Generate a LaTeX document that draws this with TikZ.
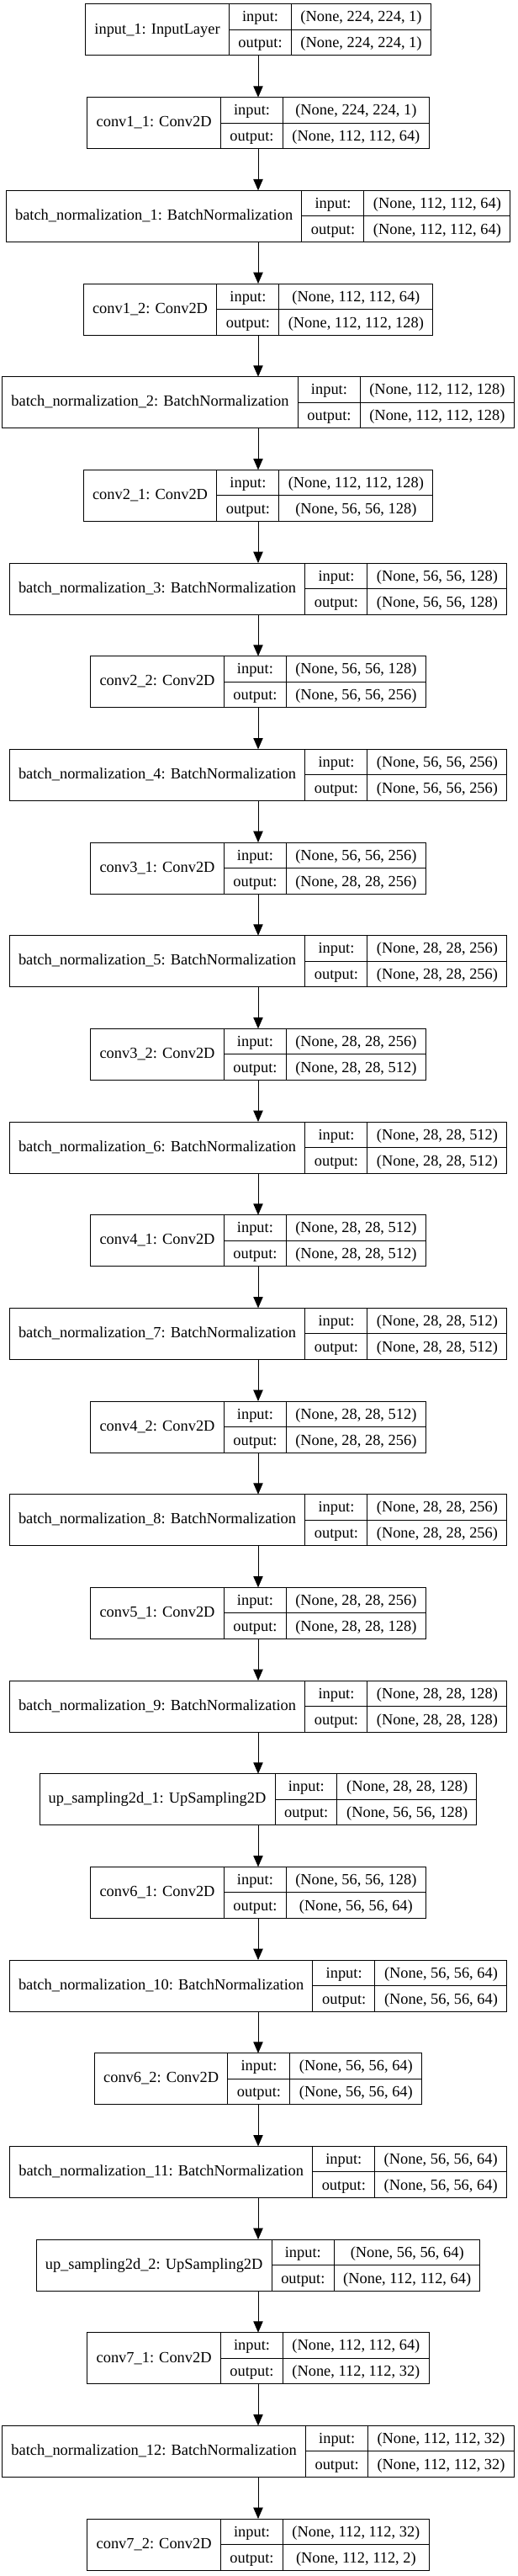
\documentclass[tikz,border=0pt]{standalone}
\usepackage{fontspec}
\setmainfont{Liberation Serif}
\usepackage{tikz}
\usetikzlibrary{positioning, arrows.meta}
\setlength{\arrayrulewidth}{0.75pt}
\renewcommand{\arraystretch}{1.40625}
% one keras layer: name | input:/output: | shapes
\newcommand{\layerbox}[3]{%
  \begin{tabular}{@{\hspace{8pt}}c@{\hspace{8pt}}|@{}c@{}|@{}c@{}}
    #1 &
    \begin{tabular}{@{\hspace{8pt}}c@{\hspace{8pt}}}input:\\\hline output:\end{tabular} &
    \begin{tabular}{@{\hspace{8pt}}c@{\hspace{8pt}}}#2\\\hline #3\end{tabular}
  \end{tabular}}

\begin{document}
\begin{tikzpicture}[
        node distance=37.25pt,
        layer/.style={rectangle, draw=black, line width=0.75pt, inner sep=0pt, outer sep=0pt, fill=white, font=\fontsize{13.8}{16}\selectfont},
        arrow/.style={-{Triangle[length=10pt, width=8.5pt]}, line width=0.75pt, draw=black}
    ]
    \useasboundingbox (-230.25pt,3.75pt) rectangle (231pt,-2292pt);
    \node[layer, anchor=north] (input) at (0,0) {\layerbox{input\_1: InputLayer}{(None, 224, 224, 1)}{(None, 224, 224, 1)}};
    \node[layer, below=of input] (conv11) {\layerbox{conv1\_1: Conv2D}{(None, 224, 224, 1)}{(None, 112, 112, 64)}};
    \node[layer, below=of conv11] (bn1) {\layerbox{batch\_normalization\_1: BatchNormalization}{(None, 112, 112, 64)}{(None, 112, 112, 64)}};
    \node[layer, below=of bn1] (conv12) {\layerbox{conv1\_2: Conv2D}{(None, 112, 112, 64)}{(None, 112, 112, 128)}};
    \node[layer, below=of conv12] (bn2) {\layerbox{batch\_normalization\_2: BatchNormalization}{(None, 112, 112, 128)}{(None, 112, 112, 128)}};
    \node[layer, below=of bn2] (conv21) {\layerbox{conv2\_1: Conv2D}{(None, 112, 112, 128)}{(None, 56, 56, 128)}};
    \node[layer, below=of conv21] (bn3) {\layerbox{batch\_normalization\_3: BatchNormalization}{(None, 56, 56, 128)}{(None, 56, 56, 128)}};
    \node[layer, below=of bn3] (conv22) {\layerbox{conv2\_2: Conv2D}{(None, 56, 56, 128)}{(None, 56, 56, 256)}};
    \node[layer, below=of conv22] (bn4) {\layerbox{batch\_normalization\_4: BatchNormalization}{(None, 56, 56, 256)}{(None, 56, 56, 256)}};
    \node[layer, below=of bn4] (conv31) {\layerbox{conv3\_1: Conv2D}{(None, 56, 56, 256)}{(None, 28, 28, 256)}};
    \node[layer, below=of conv31] (bn5) {\layerbox{batch\_normalization\_5: BatchNormalization}{(None, 28, 28, 256)}{(None, 28, 28, 256)}};
    \node[layer, below=of bn5] (conv32) {\layerbox{conv3\_2: Conv2D}{(None, 28, 28, 256)}{(None, 28, 28, 512)}};
    \node[layer, below=of conv32] (bn6) {\layerbox{batch\_normalization\_6: BatchNormalization}{(None, 28, 28, 512)}{(None, 28, 28, 512)}};
    \node[layer, below=of bn6] (conv41) {\layerbox{conv4\_1: Conv2D}{(None, 28, 28, 512)}{(None, 28, 28, 512)}};
    \node[layer, below=of conv41] (bn7) {\layerbox{batch\_normalization\_7: BatchNormalization}{(None, 28, 28, 512)}{(None, 28, 28, 512)}};
    \node[layer, below=of bn7] (conv42) {\layerbox{conv4\_2: Conv2D}{(None, 28, 28, 512)}{(None, 28, 28, 256)}};
    \node[layer, below=of conv42] (bn8) {\layerbox{batch\_normalization\_8: BatchNormalization}{(None, 28, 28, 256)}{(None, 28, 28, 256)}};
    \node[layer, below=of bn8] (conv51) {\layerbox{conv5\_1: Conv2D}{(None, 28, 28, 256)}{(None, 28, 28, 128)}};
    \node[layer, below=of conv51] (bn9) {\layerbox{batch\_normalization\_9: BatchNormalization}{(None, 28, 28, 128)}{(None, 28, 28, 128)}};
    \node[layer, below=of bn9] (up1) {\layerbox{up\_sampling2d\_1: UpSampling2D}{(None, 28, 28, 128)}{(None, 56, 56, 128)}};
    \node[layer, below=of up1] (conv61) {\layerbox{conv6\_1: Conv2D}{(None, 56, 56, 128)}{(None, 56, 56, 64)}};
    \node[layer, below=of conv61] (bn10) {\layerbox{batch\_normalization\_10: BatchNormalization}{(None, 56, 56, 64)}{(None, 56, 56, 64)}};
    \node[layer, below=of bn10] (conv62) {\layerbox{conv6\_2: Conv2D}{(None, 56, 56, 64)}{(None, 56, 56, 64)}};
    \node[layer, below=of conv62] (bn11) {\layerbox{batch\_normalization\_11: BatchNormalization}{(None, 56, 56, 64)}{(None, 56, 56, 64)}};
    \node[layer, below=of bn11] (up2) {\layerbox{up\_sampling2d\_2: UpSampling2D}{(None, 56, 56, 64)}{(None, 112, 112, 64)}};
    \node[layer, below=of up2] (conv71) {\layerbox{conv7\_1: Conv2D}{(None, 112, 112, 64)}{(None, 112, 112, 32)}};
    \node[layer, below=of conv71] (bn12) {\layerbox{batch\_normalization\_12: BatchNormalization}{(None, 112, 112, 32)}{(None, 112, 112, 32)}};
    \node[layer, below=of bn12] (conv72) {\layerbox{conv7\_2: Conv2D}{(None, 112, 112, 32)}{(None, 112, 112, 2)}};
    \draw[arrow] (input) -- (conv11);
    \draw[arrow] (conv11) -- (bn1);
    \draw[arrow] (bn1) -- (conv12);
    \draw[arrow] (conv12) -- (bn2);
    \draw[arrow] (bn2) -- (conv21);
    \draw[arrow] (conv21) -- (bn3);
    \draw[arrow] (bn3) -- (conv22);
    \draw[arrow] (conv22) -- (bn4);
    \draw[arrow] (bn4) -- (conv31);
    \draw[arrow] (conv31) -- (bn5);
    \draw[arrow] (bn5) -- (conv32);
    \draw[arrow] (conv32) -- (bn6);
    \draw[arrow] (bn6) -- (conv41);
    \draw[arrow] (conv41) -- (bn7);
    \draw[arrow] (bn7) -- (conv42);
    \draw[arrow] (conv42) -- (bn8);
    \draw[arrow] (bn8) -- (conv51);
    \draw[arrow] (conv51) -- (bn9);
    \draw[arrow] (bn9) -- (up1);
    \draw[arrow] (up1) -- (conv61);
    \draw[arrow] (conv61) -- (bn10);
    \draw[arrow] (bn10) -- (conv62);
    \draw[arrow] (conv62) -- (bn11);
    \draw[arrow] (bn11) -- (up2);
    \draw[arrow] (up2) -- (conv71);
    \draw[arrow] (conv71) -- (bn12);
    \draw[arrow] (bn12) -- (conv72);
\end{tikzpicture}
\end{document}
